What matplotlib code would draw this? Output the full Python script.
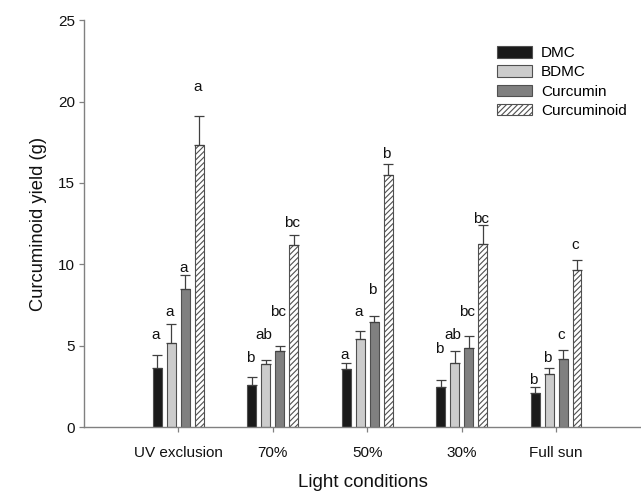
import matplotlib
matplotlib.use("Agg")
import matplotlib.pyplot as plt
import numpy as np

plt.rcParams['font.family'] = ['Liberation Sans', 'DejaVu Sans']
plt.rcParams['hatch.color'] = '#707070'
plt.rcParams['hatch.linewidth'] = 0.8

categories = ["UV exclusion", "70%", "50%", "30%", "Full sun"]
series = ["DMC", "BDMC", "Curcumin", "Curcuminoid"]
dmc = [3.6, 2.58, 3.54, 2.47, 2.07]
bdmc = [5.17, 3.87, 5.44, 3.91, 3.23]
curcumin = [8.51, 4.66, 6.46, 4.83, 4.21]
curcuminoid = [17.34, 11.17, 15.46, 11.23, 9.63]
dmc_err = [0.82, 0.47, 0.37, 0.41, 0.37]
bdmc_err = [1.17, 0.28, 0.45, 0.75, 0.41]
curcumin_err = [0.82, 0.35, 0.37, 0.75, 0.51]
curcuminoid_err = [1.80, 0.61, 0.72, 1.16, 0.66]
dmc_lab = ["a", "b", "a", "b", "b"]
bdmc_lab = ["a", "ab", "a", "ab", "b"]
curcumin_lab = ["a", "bc", "b", "bc", "c"]
curcuminoid_lab = ["a", "bc", "b", "bc", "c"]
# heights (data units) of the significance letters
dmc_lab_y = [5.38, 4.01, 4.21, 4.56, 2.62]
bdmc_lab_y = [6.81, 5.38, 6.81, 5.38, 4.01]
curcumin_lab_y = [9.53, 6.81, 8.2, 6.81, 5.38]
curcuminoid_lab_y = [20.63, 12.29, 16.52, 12.53, 10.96]

values = [dmc, bdmc, curcumin, curcuminoid]
errs = [dmc_err, bdmc_err, curcumin_err, curcuminoid_err]
labs = [dmc_lab, bdmc_lab, curcumin_lab, curcuminoid_lab]
lab_ys = [dmc_lab_y, bdmc_lab_y, curcumin_lab_y, curcuminoid_lab_y]
colors = ['#1a1a1a', '#cccccc', '#808080', 'white']
hatches = [None, None, None, '//////']

fig = plt.figure(figsize=(6.41, 4.92), dpi=100)
ax = fig.add_axes([0.131, 0.132, 0.869, 0.827])

x = np.arange(1, len(categories) + 1)
pitch = 0.148
width = 0.095
for i, (vals, er, lb, ly) in enumerate(zip(values, errs, labs, lab_ys)):
    pos = x + (i - 1.5) * pitch
    ax.bar(pos, vals, width, color=colors[i], edgecolor='#505050', linewidth=0.8,
           hatch=hatches[i], label=series[i], zorder=2)
    ax.errorbar(pos, vals, yerr=[np.zeros(len(vals)), er], fmt='none',
                ecolor='#404040', elinewidth=0.9, capsize=3.6, capthick=0.9, zorder=3)
    for p, t, yy in zip(pos, lb, ly):
        ax.text(p - 0.02, yy, t, ha='center', va='baseline', fontsize=11, color='#111111')

ax.set_xlim(0, 5.9)
ax.set_ylim(0, 25)
ax.set_yticks([0, 5, 10, 15, 20, 25])
ax.set_xticks(x)
ax.set_xticklabels(categories)
ax.tick_params(axis='both', labelsize=11, colors='#808080', labelcolor='#111111',
               length=3.6, width=0.9, pad=3)
ax.tick_params(axis='x', pad=10)
for s in ['top', 'right']:
    ax.spines[s].set_visible(False)
for s in ['left', 'bottom']:
    ax.spines[s].set_color('#808080')
    ax.spines[s].set_linewidth(1.0)
ax.set_ylabel("Curcuminoid yield (g)", fontsize=13.2, color='#111111', labelpad=8)
ax.set_xlabel("Light conditions", fontsize=13.5, color='#111111', labelpad=10)

leg = ax.legend(loc='upper right', bbox_to_anchor=(0.999, 0.97), frameon=False, fontsize=11,
                handlelength=2.3, handleheight=0.8, labelspacing=0.33, handletextpad=0.6)

fig.savefig("out.png", dpi=100)
